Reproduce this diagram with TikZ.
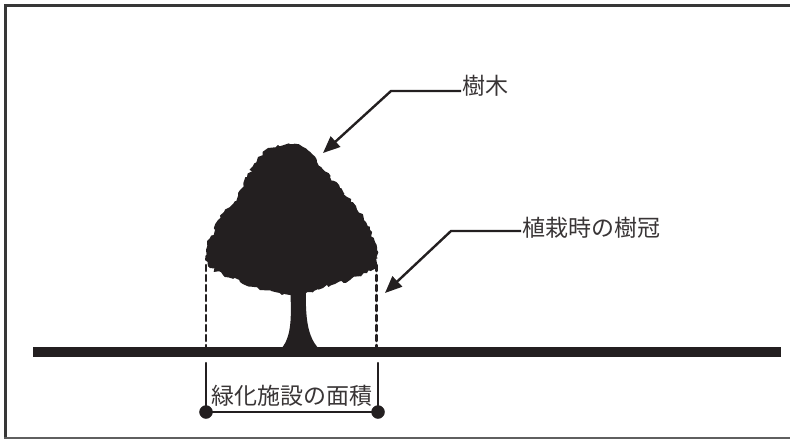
\documentclass[tikz,border=0pt]{standalone}
\usepackage{fontspec}
\usepackage{tkz-euclide}
\usetikzlibrary{arrows.meta,decorations.pathmorphing}
\newfontfamily\jpfont{Noto Sans CJK JP}
\definecolor{InkClr}{RGB}{35,31,32}
\definecolor{FrameClr}{RGB}{55,55,55}

\begin{document}
\begin{tikzpicture}[x=1pt,y=-1pt,
  tagtext/.style={font=\jpfont\fontsize{23}{26}\selectfont,text=InkClr!90,inner sep=1pt},
  pointer/.style={line width=2.4pt,color=InkClr,-{Triangle[length=17pt,width=14pt]}}]
\useasboundingbox (0,0) rectangle (790,439);

% frame, open on the right
\draw[line width=3pt,FrameClr] (790,5.5) -- (5.5,5.5) -- (5.5,438);
\draw[line width=2pt,FrameClr!80] (4,438) -- (790,438);

% ground
\fill[InkClr] (33,347) rectangle (781,357);

\tkzDefPoints{206/265/L1,206/347/L2,376.5/265/R1,376.5/347/R2}
\tkzDefPoints{206/363/A1,206/412/A2,378/363/B1,378/412/B2}
\tkzDefPoint(323,153){T}
\tkzDefPoint(385,293){C}

% crown, leafy edge
\fill[InkClr,decorate,
  decoration={random steps,segment length=3pt,amplitude=1.8pt}]
  (290,144) -- (303,147) -- (312,154) -- (317,162) -- (330,177) -- (340,188)
  -- (347,197) -- (356,206) -- (360,213) -- (366,222) -- (370,230) -- (375,242)
  -- (377,250) -- (378,258) -- (376,266) -- (367,273) -- (350,280) -- (335,284)
  -- (323,288) -- (303,293) -- (290,295) -- (275,292) -- (260,290) -- (240,282)
  -- (223,275) -- (210,268) -- (205,260) -- (206,250) -- (210,238) -- (215,230)
  -- (218,220) -- (224,212) -- (233,204) -- (238,196) -- (240,190) -- (247,177)
  -- (253,166) -- (258,157) -- (268,148) -- (278,145) -- cycle;

% trunk
\fill[InkClr] (290,285) .. controls (292,320) and (291,336) .. (282,348)
  -- (318,348) .. controls (308,336) and (305,320) .. (306,285) -- cycle;

% crown edges at planting
\tkzDrawSegments[line width=2.5pt,color=InkClr,dash pattern=on 6pt off 4pt](L1,L2 R1,R2)

% area bracket
\tkzDrawSegments[line width=2.2pt,color=InkClr](A1,A2 B1,B2 A2,B2)
\tkzDrawPoints[size=13,color=InkClr,fill=InkClr](A2,B2)

\node[tagtext] (area) at (292,396) {緑化施設の面積};
\node[tagtext,anchor=west] (tree) at (461,86) {樹木};
\node[tagtext,anchor=west] (crown) at (521,228) {植栽時の樹冠};

\draw[pointer] ([yshift=-5pt]tree.west) -- ++(-70,0) -- (T);
\draw[pointer] ([yshift=-3pt]crown.west) -- ++(-70,0) -- (C);

\end{tikzpicture}
\end{document}
